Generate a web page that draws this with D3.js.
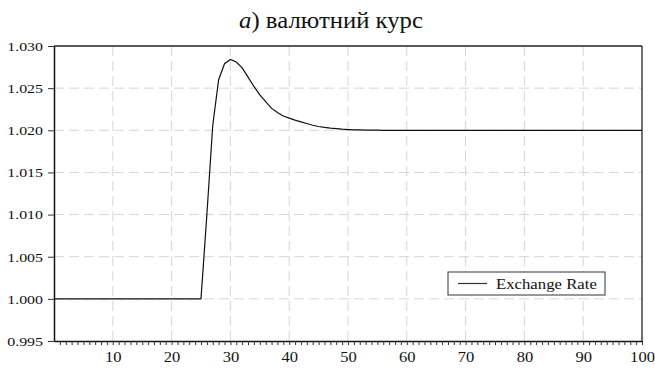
<!DOCTYPE html>
<html>
<head>
<meta charset="utf-8">
<script src="https://cdn.jsdelivr.net/npm/d3@7"></script>
<style>
  body { margin: 0; background: #fff; }
</style>
</head>
<body>
<svg id="chart"></svg>
<script>
// periods 0..100
var periods = d3.range(0, 101);
// exchange rate path
var exchangeRate = [
  1.0000, 1.0000, 1.0000, 1.0000, 1.0000, 1.0000, 1.0000, 1.0000, 1.0000, 1.0000,
  1.0000, 1.0000, 1.0000, 1.0000, 1.0000, 1.0000, 1.0000, 1.0000, 1.0000, 1.0000,
  1.0000, 1.0000, 1.0000, 1.0000, 1.0000, 1.0000, 1.0100, 1.0206, 1.0260, 1.0279,
  1.0284, 1.0281, 1.0274, 1.0263, 1.0252, 1.0242, 1.0234, 1.0226, 1.0221, 1.0217,
  1.02145, 1.0212, 1.0210, 1.0208, 1.0206, 1.02045, 1.02034, 1.02026, 1.0202, 1.02013,
  1.02009, 1.02006, 1.02004, 1.02003, 1.02002, 1.02001, 1.0200, 1.0200, 1.0200, 1.0200,
  1.01999, 1.01999, 1.01998, 1.01998, 1.01998, 1.01998, 1.01998, 1.01998, 1.01998, 1.01998,
  1.01998, 1.01998, 1.01998, 1.01998, 1.01998, 1.01998, 1.01998, 1.01998, 1.01998, 1.01998,
  1.01998, 1.01998, 1.01998, 1.01998, 1.01998, 1.01998, 1.01998, 1.01998, 1.01998, 1.01998,
  1.01998, 1.01998, 1.01998, 1.01998, 1.01998, 1.01998, 1.01998, 1.01998, 1.01998, 1.01998,
  1.01998
];
var yTicks = [0.995, 1.000, 1.005, 1.010, 1.015, 1.020, 1.025, 1.030];
var xLabels = [10, 20, 30, 40, 50, 60, 70, 80, 90, 100];
var seriesName = "Exchange Rate";
var titleLetter = "a";
var titleText = ") валютний курс";

var width = 655, height = 368;
var margin = {top: 46, right: 13, bottom: 27, left: 54};
var serif = "Liberation Serif";

var svg = d3.select("#chart").attr("width", width).attr("height", height);

var xScale = d3.scaleLinear().domain([0, 100]).range([margin.left, width - margin.right]);
var yScale = d3.scaleLinear().domain([0.995, 1.030]).range([height - margin.bottom, margin.top]);

// text in the picture is drawn a bit wide, so squeeze/stretch horizontally
var wide = function(k){ return "scale(" + k + ",1)"; };

// grid
svg.append("g").selectAll("line")
  .data(xLabels.filter(function(d){ return d < 100; }))
  .enter().append("line")
  .attr("x1", function(d){ return xScale(d); })
  .attr("x2", function(d){ return xScale(d); })
  .attr("y1", yScale(1.030)).attr("y2", yScale(0.995))
  .attr("stroke", "#d6d6d6").attr("stroke-dasharray", "10,5");

svg.append("g").selectAll("line")
  .data(yTicks.filter(function(d){ return d > 0.996 && d < 1.029; }))
  .enter().append("line")
  .attr("x1", xScale(0)).attr("x2", xScale(100))
  .attr("y1", function(d){ return yScale(d); })
  .attr("y2", function(d){ return yScale(d); })
  .attr("stroke", "#d6d6d6").attr("stroke-dasharray", "10,5");

// frame top / right
svg.append("line")
  .attr("x1", xScale(0)).attr("x2", xScale(100))
  .attr("y1", yScale(1.030)).attr("y2", yScale(1.030))
  .attr("stroke", "#222").attr("stroke-width", 1.3);
svg.append("line")
  .attr("x1", xScale(100)).attr("x2", xScale(100))
  .attr("y1", yScale(1.030)).attr("y2", yScale(0.995))
  .attr("stroke", "#222").attr("stroke-width", 1.3);

// x axis: minor tick every period, label every 10
var xAxis = d3.axisBottom(xScale)
  .tickValues(d3.range(1, 101))
  .tickSize(4)
  .tickSizeOuter(0)
  .tickFormat(function(d){ return d % 10 === 0 ? d : ""; });

var gx = svg.append("g")
  .attr("transform", "translate(0," + yScale(0.995) + ")")
  .call(xAxis);
gx.attr("font-family", serif);
gx.select(".domain").attr("stroke", "#111").attr("stroke-width", 1.5);
gx.selectAll(".tick line").attr("stroke", "#333");
gx.selectAll("text")
  .style("font-family", serif).style("font-size", "14.5px")
  .attr("dy", "1.0em").attr("fill", "#111")
  .attr("transform", wide(1.14));

var yAxis = d3.axisLeft(yScale)
  .tickValues(yTicks)
  .tickSize(6)
  .tickSizeOuter(0)
  .tickFormat(d3.format(".3f"));

var ySt = 1.18;
var gy = svg.append("g")
  .attr("transform", "translate(" + xScale(0) + ",0)")
  .call(yAxis);
gy.attr("font-family", serif);
gy.select(".domain").attr("stroke", "#111").attr("stroke-width", 1.5);
gy.selectAll(".tick line").attr("stroke", "#333");
gy.selectAll("text")
  .style("font-family", serif).style("font-size", "13.5px")
  .attr("x", -11 / ySt).attr("fill", "#111")
  .attr("transform", wide(ySt));

// series line
var line = d3.line()
  .x(function(d, i){ return xScale(periods[i]); })
  .y(function(d){ return yScale(d); });

svg.append("path")
  .datum(exchangeRate)
  .attr("d", line)
  .attr("fill", "none")
  .attr("stroke", "#111")
  .attr("stroke-width", 1.2);

// legend
var lSt = 1.08;
var legend = svg.append("g").attr("transform", "translate(448,272)");
legend.append("rect")
  .attr("width", 157).attr("height", 23)
  .attr("fill", "#fff").attr("stroke", "#333").attr("stroke-width", 1);
legend.append("line")
  .attr("x1", 10).attr("x2", 39).attr("y1", 11.5).attr("y2", 11.5)
  .attr("stroke", "#333").attr("stroke-width", 1.2);
legend.append("text")
  .attr("x", 48 / lSt).attr("y", 17)
  .attr("transform", wide(lSt))
  .style("font-family", serif).style("font-size", "15.5px")
  .attr("fill", "#111")
  .text(seriesName);

// title
var tSt = 1.03;
var title = svg.append("text")
  .attr("x", 331 / tSt).attr("y", 28)
  .attr("transform", wide(tSt))
  .attr("text-anchor", "middle")
  .style("font-family", serif).style("font-size", "24px")
  .attr("fill", "#111");
title.append("tspan").attr("font-style", "italic").text(titleLetter);
title.append("tspan").text(titleText);
</script>
</body>
</html>
